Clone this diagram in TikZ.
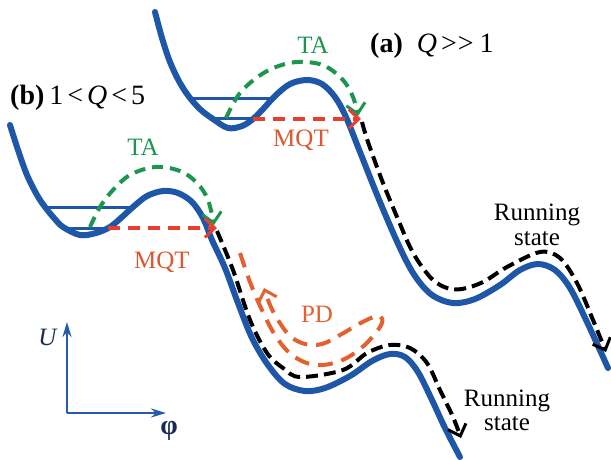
\documentclass[tikz,border=0pt]{standalone}
\usepackage{fontspec}
\setmainfont{Liberation Serif}
\usetikzlibrary{arrows.meta}
\definecolor{curveblue}{RGB}{30,86,168}
\definecolor{axisblue}{RGB}{36,92,172}
\definecolor{tagreen}{RGB}{28,150,78}
\definecolor{mqtred}{RGB}{232,62,46}
\definecolor{pdorange}{RGB}{228,96,46}
\definecolor{mqttext}{RGB}{222,86,46}
\definecolor{navy}{RGB}{26,42,88}
\begin{document}
\begin{tikzpicture}[x=1pt,y=-1pt,
  pot/.style={curveblue, line width=6pt, line cap=round},
  lvl/.style={curveblue, line width=3pt},
  barb/.style={-{Straight Barb[length=10pt,width=19pt,line width=3pt]}},
  taarrow/.style={tagreen, line width=4pt, dash pattern=on 11pt off 7pt, barb},
  mqtarrow/.style={mqtred, line width=4pt, dash pattern=on 12pt off 8pt, barb},
  runarrow/.style={black, line width=4pt, dash pattern=on 12pt off 6pt, barb},
  pdarrow/.style={pdorange, line width=4pt, dash pattern=on 15pt off 9pt, barb},
  axis/.style={axisblue, line width=2.5pt, -{Stealth[length=15pt,width=9pt]}},
  lbl/.style={font=\fontsize{25}{25}\selectfont, inner sep=0pt},
  big/.style={font=\fontsize{28}{28}\selectfont, inner sep=0pt}
]
\useasboundingbox (0,0) rectangle (611,459);

% ---- potential (a)
\draw[pot] plot[smooth, tension=0.55] coordinates {(155,12) (162,38) (170,62) (180,83) (190,98) (201,110) (213,119) (228,128) (242,126) (253,119) (264,108) (275,96) (290,84) (307,80) (322,84) (335,97) (346,117) (360,152) (380,202) (400,248) (415,276) (432,295) (453,303) (475,299) (500,285) (520,270) (538,264) (555,270) (570,288) (587,322) (608,368)};
\draw[lvl] (190,98) -- (274,98);
\draw[lvl] (213,118) -- (253,118);

% ---- potential (b)
\draw[pot] plot[smooth, tension=0.55] coordinates {(10,125) (18,150) (27,175) (37,195) (45,207) (54,218) (63,227) (80,235) (96,233) (110,227) (122,217) (133,207) (147,196) (163,191) (178,193) (192,202) (203,218) (212,240) (225,268) (238,303) (252,338) (268,365) (285,384) (305,391) (325,388) (350,376) (372,361) (390,354) (405,357) (418,372) (432,400) (445,428) (460,457)};
\draw[lvl] (45,207) -- (133,207);
\draw[lvl] (63,228) -- (108,228);

% ---- named points
\coordinate (aMQTs) at (253,119);
\coordinate (aTip) at (361,119);
\coordinate (aTAs) at (226,118);
\coordinate (aTAe) at (358,116);
\coordinate (bMQTs) at (108,228);
\coordinate (bTip) at (217,228);
\coordinate (bTAs) at (90,227);
\coordinate (bTAe) at (214,225);

% ---- TA arrows
\draw[taarrow] plot[smooth, tension=0.6] coordinates {(aTAs) (240,93) (262,74) (285,64) (305,62) (325,66) (343,80) (353,97) (aTAe)};
\draw[taarrow] plot[smooth, tension=0.6] coordinates {(bTAs) (100,207) (113,190) (130,175) (155,167) (180,171) (197,183) (208,200) (bTAe)};

% ---- MQT arrows
\draw[mqtarrow] (aMQTs) -- (aTip);
\draw[mqtarrow] (bMQTs) -- (bTip);

% ---- running-state arrows
\draw[runarrow] plot[smooth, tension=0.55] coordinates {(362,122) (368,142) (383,183) (400,224) (410,247) (420,264) (433,280) (447,288) (462,289) (483,282) (507,267) (540,252) (560,258) (577,283) (593,320) (606,352)};
\draw[runarrow] plot[smooth, tension=0.55] coordinates {(217,231) (233,270) (250,320) (267,353) (283,368) (300,377) (343,370) (367,353) (390,345) (410,348) (427,363) (440,390) (453,417) (461,438)};

% ---- PD arrow
\draw[pdarrow] plot[smooth, tension=0.6] coordinates {(240,253) (250,282) (261,308) (275,335) (292,355) (315,365) (340,361) (360,349) (374,335) (382,323) (380,316) (371,318) (357,325) (340,335) (322,344) (305,344) (290,336) (278,320) (270,305) (264,288)};

% ---- axes
\coordinate (O) at (67,413);
\coordinate (Uend) at (67,322);
\coordinate (Pend) at (166,413);
\draw[axis] (O) -- (Uend);
\draw[axis] (O) -- (Pend);
\node[lbl, text=navy] (Ulbl) at (48,337) {\textit{U}};
\node[lbl, text=navy, font=\fontsize{28}{28}\selectfont] (Plbl) at (169,431) {\textbf{φ}};

% ---- labels
\node[big, anchor=base west] (alab) at (370,52) {\textbf{(a)}\hspace{14pt}\textit{Q}\hspace{4pt}>\hspace{1pt}>\hspace{6pt}1};
\node[big, anchor=base west] (blab) at (10,104) {\textbf{(b)}\hspace{5pt}1\hspace{4pt}<\hspace{4pt}\textit{Q}\hspace{4pt}<\hspace{4pt}5};
\node[lbl, text=tagreen, anchor=base] (taa) at (313,53) {TA};
\node[lbl, text=tagreen, anchor=base] (tab) at (143,155) {TA};
\node[lbl, text=mqttext, anchor=base] (mqta) at (301,146) {MQT};
\node[lbl, text=mqttext, anchor=base] (mqtb) at (162,268) {MQT};
\node[lbl, text=pdorange, anchor=base] (pd) at (317,322) {PD};
\node[lbl, anchor=base] (runa1) at (537,220) {Running};
\node[lbl, anchor=base] (runa2) at (537,245) {state};
\node[lbl, anchor=base] (runb1) at (507,406) {Running};
\node[lbl, anchor=base] (runb2) at (507,430) {state};
\end{tikzpicture}
\end{document}
